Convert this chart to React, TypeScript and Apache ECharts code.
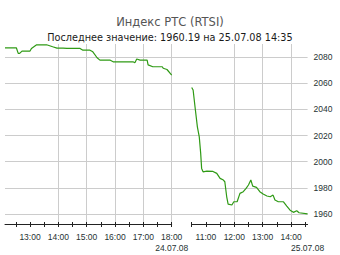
import React, { useEffect, useRef } from "react";
import * as echarts from "echarts";

const titleText = "Индекс РТС (RTSI)";
const subtitleText = "Последнее значение: 1960.19 на 25.07.08 14:35";

const day1Date = "24.07.08";
const day2Date = "25.07.08";

const day1Times = [
  "12:07", "12:31", "12:35", "12:38", "12:43", "13:00", "13:03", "13:14", "13:35", "13:48",
  "13:57", "14:10", "14:18", "14:46", "14:52", "15:07", "15:13", "15:22", "15:28", "15:49",
  "15:56", "16:38", "16:42", "16:46", "16:53", "17:08", "17:10", "17:20", "17:40", "17:42",
  "17:50", "18:00",
];
const day1Values = [
  2087.1, 2087.1, 2082.8, 2082.8, 2084.6, 2084.6, 2086.6, 2089.4, 2089.4, 2087.9,
  2086.9, 2086.9, 2086.6, 2086.6, 2085.3, 2085.3, 2084.0, 2079.5, 2077.7, 2077.7,
  2076.4, 2076.4, 2075.6, 2078.5, 2077.7, 2077.7, 2074.0, 2072.6, 2072.6, 2071.5,
  2070.5, 2066.2,
];

const day2Times = [
  "10:30", "10:33", "10:37", "10:42", "10:46", "10:49", "10:51", "10:54", "11:02", "11:15",
  "11:23", "11:30", "11:37", "11:40", "11:44", "11:47", "11:55", "11:59", "12:06", "12:12",
  "12:19", "12:25", "12:30", "12:35", "12:39", "12:47", "12:54", "13:01", "13:09", "13:16",
  "13:22", "13:26", "13:33", "13:44", "13:51", "13:58", "14:05", "14:12", "14:17", "14:35",
];
const day2Values = [
  2056.8, 2054.8, 2042.0, 2026.7, 2019.0, 2006.4, 1994.9, 1992.3, 1992.8, 1992.6,
  1991.1, 1987.3, 1986.0, 1984.7, 1973.2, 1967.6, 1966.9, 1969.4, 1969.4, 1975.8,
  1977.1, 1979.6, 1982.2, 1986.0, 1981.4, 1980.4, 1977.1, 1975.3, 1973.8, 1973.2,
  1974.5, 1970.7, 1969.4, 1969.4, 1966.1, 1963.0, 1961.3, 1962.5, 1961.0, 1960.19,
];

const yTicks = [1960, 1980, 2000, 2020, 2040, 2060, 2080];
const day1HourTicks = ["13:00", "14:00", "15:00", "16:00", "17:00", "18:00"];
const day1HalfTicks = ["12:30", "13:00", "13:30", "14:00", "14:30", "15:00", "15:30", "16:00", "16:30", "17:00", "17:30", "18:00"];
const day2HourTicks = ["11:00", "12:00", "13:00", "14:00"];
const day2HalfTicks = ["10:30", "11:00", "11:30", "12:00", "12:30", "13:00", "13:30", "14:00", "14:30"];
const day1Range = ["12:07", "18:00"];
const day2Range = ["10:30", "14:35"];

const toMin = (s: string) => {
  const [h, m] = s.split(":").map(Number);
  return h * 60 + m;
};
const fmt = (v: number) => {
  const h = Math.floor(v / 60);
  const m = Math.round(v % 60);
  return `${h}:${m < 10 ? "0" + m : m}`;
};

export default function App() {
  const ref = useRef<HTMLDivElement>(null);
  useEffect(() => {
    if (!ref.current) return;
    const chart = echarts.init(ref.current, null, { renderer: "svg" });
    const yMin = 1952.4;
    const yMax = 2090;
    const top = 44;
    const height = 180;
    const labelFont = "Liberation Sans, Arial, sans-serif";
    const labelColor = "#1f3333";
    const gridColor = "#cccccc";

    const d1min = toMin(day1Range[0]);
    const d1max = toMin(day1Range[1]);
    const d2min = toMin(day2Range[0]);
    const d2max = toMin(day2Range[1]);

    const labelStyle = { fontFamily: labelFont, fontSize: 8.5, color: labelColor };

    const mkAxes = (gridIndex: number, mn: number, mx: number, half: string[], hours: string[], date: string) => [
      {
        type: "value", gridIndex, min: mn, max: mx, position: "bottom", offset: 0,
        axisLine: { show: true, onZero: false, lineStyle: { color: "#222", width: 1 } },
        axisTick: { show: true, inside: false, length: 3, customValues: half.map(toMin), lineStyle: { color: "#222" } },
        axisLabel: { show: false }, splitLine: { show: false },
      },
      {
        type: "value", gridIndex, min: mn, max: mx, position: "bottom", offset: 0,
        axisLine: { show: false, onZero: false },
        axisTick: { show: true, inside: true, length: 2, customValues: half.map(toMin), lineStyle: { color: "#222" } },
        axisLabel: { show: false }, splitLine: { show: false },
      },
      {
        type: "value", gridIndex, min: mn, max: mx, position: "bottom", offset: 0,
        axisLine: { show: false, onZero: false },
        axisTick: { show: false, customValues: hours.map(toMin) },
        axisLabel: {
          show: true,
          showMinLabel: true,
          showMaxLabel: true,
          customValues: hours.map(toMin),
          margin: 8,
          ...labelStyle,
          formatter: (v: number) => fmt(v),
        },
        splitLine: { show: true, showMinLine: false, lineStyle: { color: gridColor, width: 1 } },
      },
      {
        type: "value", gridIndex, min: mn, max: mx, position: "bottom", offset: 0,
        axisLine: { show: false, onZero: false },
        axisTick: { show: false, customValues: [mx] },
        axisLabel: {
          show: true,
          showMinLabel: true,
          showMaxLabel: true,
          customValues: [mx],
          margin: 19,
          ...labelStyle,
          formatter: () => date,
        },
        splitLine: { show: false },
      },
    ];

    const xAxes = [
      { type: "value", gridIndex: 0, min: 0, max: 1, show: false },
      ...mkAxes(1, d1min, d1max, day1HalfTicks, day1HourTicks, day1Date),
      ...mkAxes(2, d2min, d2max, day2HalfTicks, day2HourTicks, day2Date),
    ];

    chart.setOption({
      animation: false,
      backgroundColor: "#ffffff",
      title: [
        {
          text: titleText, left: "center", top: 11,
          textStyle: { fontFamily: "DejaVu Sans, sans-serif", fontSize: 11.5, fontWeight: "normal", color: "#555555" },
        },
        {
          text: subtitleText, left: "center", top: 27,
          textStyle: { fontFamily: "DejaVu Sans, sans-serif", fontSize: 9.7, fontWeight: "normal", color: "#1a1a1a" },
        },
      ],
      grid: [
        { left: 5, top, width: 302.6, height, containLabel: false },
        { left: 5, top, width: 166.7, height, containLabel: false },
        { left: 191.7, top, width: 115.9, height, containLabel: false },
      ],
      xAxis: xAxes,
      yAxis: [
        {
          type: "value", gridIndex: 0, position: "right", min: yMin, max: yMax,
          axisLine: { show: false }, axisTick: { show: false, customValues: yTicks },
          axisLabel: {
            show: true, customValues: yTicks, margin: 6, ...labelStyle,
            formatter: (v: number) => String(v),
          },
          splitLine: { show: true, lineStyle: { color: gridColor, width: 1 } },
        },
        { type: "value", gridIndex: 1, min: yMin, max: yMax, show: false, splitLine: { show: false } },
        { type: "value", gridIndex: 2, min: yMin, max: yMax, show: false, splitLine: { show: false } },
      ],
      series: [
        {
          type: "line", xAxisIndex: 1, yAxisIndex: 1, symbol: "none",
          data: day1Times.map((t, i) => [toMin(t), day1Values[i]]),
          lineStyle: { color: "#2f9a15", width: 1.2 },
        },
        {
          type: "line", xAxisIndex: 5, yAxisIndex: 2, symbol: "none",
          data: day2Times.map((t, i) => [toMin(t), day2Values[i]]),
          lineStyle: { color: "#2f9a15", width: 1.2 },
        },
      ],
    });
    return () => chart.dispose();
  }, []);
  return <div ref={ref} style={{ position: "fixed", left: 0, top: 0, width: 340, height: 255 }} />;
}
